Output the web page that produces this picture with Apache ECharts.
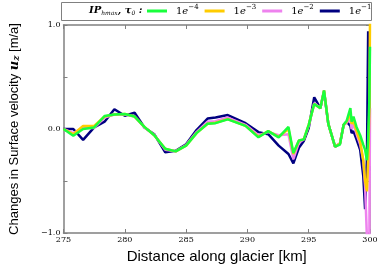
<!DOCTYPE html>
<html>
<head>
<meta charset="utf-8">
<script src="https://cdn.jsdelivr.net/npm/echarts@6/dist/echarts.min.js"></script>
<style>
  html, body { margin: 0; padding: 0; background: #fff; }
  #main { width: 382px; height: 269px; }
</style>
</head>
<body>
<div id="main"></div>
<script>
// distance along glacier [km]
var distance = [275.0, 275.8, 276.6, 277.5, 278.35, 279.15, 280.0, 280.8, 281.6, 282.4, 283.3, 284.15, 285.0, 285.85, 286.75, 287.4, 288.4, 289.85, 290.9, 291.7, 292.55, 293.35, 293.75, 294.2, 294.6, 295.0, 295.45, 295.95, 296.25, 296.6, 297.15, 297.55, 297.85, 298.1, 298.4, 298.5, 298.65, 298.9, 299.2, 299.45, 299.6, 299.75, 299.85, 299.95, 300.0];
// changes in surface velocity, one per tau0
var du_1e4 = [0.0, -0.065, 0.0, 0.015, 0.125, 0.14, 0.145, 0.12, 0.02, -0.06, -0.19, -0.215, -0.16, -0.04, 0.05, 0.056, 0.093, 0.03, -0.08, -0.02, -0.08, 0.02, -0.23, -0.11, -0.1, 0.04, 0.24, 0.2, 0.37, 0.05, -0.17, -0.15, 0.04, 0.08, 0.2, 0.07, 0.12, 0.02, -0.06, -0.15, -0.2, -0.3, -0.1, 0.3, 0.79];
var du_1e3 = [0.0, -0.05, 0.03, 0.03, 0.12, 0.14, 0.145, 0.12, 0.02, -0.06, -0.19, -0.215, -0.16, -0.04, 0.05, 0.06, 0.095, 0.03, -0.075, -0.02, -0.075, 0.0, -0.24, -0.11, -0.1, 0.04, 0.24, 0.2, 0.37, 0.05, -0.17, -0.14, 0.04, 0.07, 0.15, 0.05, 0.08, -0.02, -0.12, -0.3, -0.5, -0.6, -0.3, 0.2, 1.05];
var du_1e2 = [0.0, -0.04, 0.01, 0.01, 0.11, 0.14, 0.14, 0.12, 0.015, -0.055, -0.2, -0.215, -0.155, -0.03, 0.07, 0.075, 0.11, 0.04, -0.06, -0.03, -0.06, -0.05, -0.29, -0.13, -0.1, 0.03, 0.25, 0.2, 0.37, 0.05, -0.17, -0.14, 0.035, 0.06, 0.1, 0.0, 0.05, -0.05, -0.15, -0.3, -0.55, -1.05, -1.05, -1.05, 0.2];
var du_1e1 = [0.0, 0.0, -0.105, 0.015, 0.07, 0.19, 0.128, 0.156, 0.015, -0.05, -0.224, -0.21, -0.146, -0.01, 0.1, 0.11, 0.134, 0.056, -0.03, -0.05, -0.16, -0.24, -0.33, -0.18, -0.115, 0.01, 0.305, 0.2, 0.36, 0.05, -0.17, -0.14, 0.04, 0.07, 0.03, -0.04, -0.02, -0.1, -0.2, -0.45, -0.77, -0.3, 0.94, -0.4, -0.4];
var names = ['1e-4', '1e-3', '1e-2', '1e-1'];
var colors = ['#19ff3c', '#ffcc00', '#ee82ee', '#000080'];
var yTicks = { '-1': '\u22121.0', '0': '0.0', '1': '1.0' };

function pairs(ys) {
  return distance.map(function (x, i) { return [x, ys[i]]; });
}

var myChart = echarts.init(document.getElementById('main'));
var grey = '#808080';
var tickFont = { fontFamily: 'DejaVu Serif', fontSize: 8, color: '#000' };

var option = {
  animation: false,
  grid: { left: 62, right: 12, top: 25, bottom: 31 },
  graphic: [
    {
      type: 'rect',
      shape: { x: 61.5, y: 2.5, width: 310, height: 18 },
      style: { fill: '#fff', stroke: grey, lineWidth: 1 },
      z: 0
    },
    {
      type: 'text',
      left: 89,
      top: 5,
      z: 10,
      style: {
        text: '{a|IP}{s|hmax}{a|, \u03c4}{s|0}{a| :}',
        rich: {
          a: { fontFamily: 'DejaVu Serif', fontStyle: 'italic', fontWeight: 'bold', fontSize: 10, fill: '#000' },
          s: { fontFamily: 'DejaVu Serif', fontStyle: 'italic', fontSize: 6, fill: '#000', padding: [6, 0, 0, 0] }
        }
      }
    }
  ],
  legend: {
    data: names,
    left: 147,
    top: 4,
    width: 236,
    padding: 0,
    itemWidth: 20,
    itemHeight: 3,
    itemGap: 6,
    icon: 'rect',
    z: 10,
    formatter: function (n) {
      return '{n|1}{e|e}{s|' + n.slice(2).replace('-', '\u2212') + '}';
    },
    textStyle: {
      padding: [0, 0, 0, 4],
      rich: {
        n: { fontFamily: 'DejaVu Serif', fontSize: 10, color: '#000' },
        e: { fontFamily: 'DejaVu Serif', fontStyle: 'italic', fontSize: 10, color: '#000' },
        s: { fontFamily: 'DejaVu Serif', fontSize: 7, color: '#000', padding: [0, 0, 7, 0] }
      }
    }
  },
  xAxis: [
    {
      type: 'value',
      min: 275,
      max: 300,
      interval: 5,
      name: 'Distance along glacier [km]',
      nameLocation: 'middle',
      nameGap: 16,
      nameTextStyle: { fontFamily: 'Liberation Sans', fontSize: 15, color: '#000' },
      axisLine: { onZero: false, lineStyle: { color: grey, width: 1.5 } },
      axisTick: { inside: true, length: 4, lineStyle: { color: grey } },
      axisLabel: Object.assign({ margin: 3 }, tickFont),
      splitLine: { show: false }
    },
    {
      type: 'value',
      position: 'top',
      min: 275,
      max: 300,
      interval: 5,
      axisLine: { show: true, onZero: false, lineStyle: { color: grey, width: 1.5 } },
      axisTick: { inside: true, length: 4, lineStyle: { color: grey } },
      axisLabel: { show: false },
      splitLine: { show: false }
    }
  ],
  yAxis: [
    {
      type: 'value',
      min: -1,
      max: 1,
      interval: 0.5,
      name: '{a|Changes in Surface velocity }{b|u}{c|z}{a| [m/a]}',
      nameLocation: 'middle',
      nameGap: 42,
      nameTextStyle: {
        rich: {
          a: { fontFamily: 'Liberation Sans', fontSize: 13, color: '#000' },
          b: { fontFamily: 'DejaVu Serif', fontStyle: 'italic', fontWeight: 'bold', fontSize: 13, color: '#000' },
          c: { fontFamily: 'DejaVu Serif', fontStyle: 'italic', fontWeight: 'bold', fontSize: 9, color: '#000', padding: [5, 0, 0, 0] }
        }
      },
      axisLine: { show: true, onZero: false, lineStyle: { color: grey, width: 1.5 } },
      axisTick: { inside: true, length: 4, lineStyle: { color: grey } },
      axisLabel: Object.assign({
        margin: 3,
        formatter: function (v) { return yTicks[String(v)] || ''; }
      }, tickFont),
      splitLine: { show: false }
    },
    {
      type: 'value',
      position: 'right',
      min: -1,
      max: 1,
      interval: 0.5,
      axisLine: { show: true, onZero: false, lineStyle: { color: grey, width: 1.5 } },
      axisTick: { inside: true, length: 4, lineStyle: { color: grey } },
      axisLabel: { show: false },
      splitLine: { show: false }
    }
  ],
  series: [du_1e4, du_1e3, du_1e2, du_1e1].map(function (ys, i) {
    return {
      name: names[i],
      type: 'line',
      data: pairs(ys),
      showSymbol: false,
      symbol: 'none',
      clip: true,
      z: 5 - i,
      color: colors[i],
      lineStyle: { color: colors[i], width: 2.5 }
    };
  })
};

myChart.setOption(option);
</script>
</body>
</html>
